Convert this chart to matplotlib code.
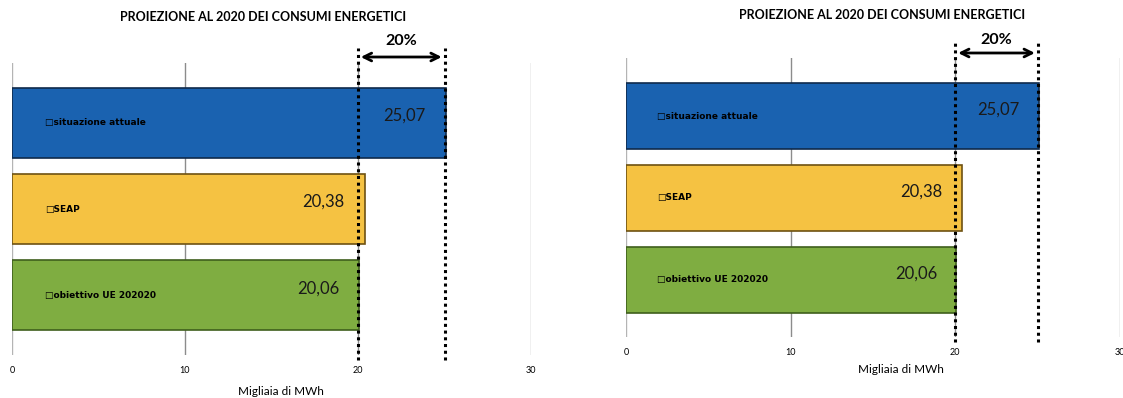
import matplotlib.pyplot as plt

categories = ['obiettivo UE 202020', 'SEAP', 'situazione attuale']
values = [20.06, 20.38, 25.07]
value_labels = ['20,06', '20,38', '25,07']
bar_colors = ['#7fad41', '#f5c242', '#1a62b0']
edge_colors = ['#3f5f1c', '#6e5212', '#0f2a4c']
x_ticks = [0, 10, 20, 30]
target_low, target_high = 20, 25
gap_label = '20%'
title = 'PROIEZIONE AL 2020 DEI CONSUMI ENERGETICI'
x_title = 'Migliaia di MWh'

NARROW = ['Liberation Sans Narrow', 'DejaVu Sans']
REGULAR = ['Lato', 'DejaVu Sans']


def draw_panel(fig, rect, ylim, title_xy, xlabel_xy, arrow_y, text_y, line_ext):
    ax = fig.add_axes(rect)
    pos = range(len(categories))
    ax.barh(pos, values, height=0.81, color=bar_colors, edgecolor=edge_colors,
            linewidth=1.2, zorder=2)
    ax.set_xlim(0, 30)
    ax.set_ylim(*ylim)
    ax.set_xticks(x_ticks)
    ax.set_xticklabels([str(t) for t in x_ticks], family=REGULAR, fontsize=6.5)
    ax.set_yticks([])
    ax.tick_params(axis='x', length=0, pad=8)
    for s in ax.spines.values():
        s.set_visible(False)
    ax.grid(axis='x', color='#b4b4b4', linewidth=1, zorder=0)
    for i, gl in enumerate(ax.get_xgridlines()):
        if x_ticks[i] in (10, 20):
            gl.set_color('#8c8c8c')

    for i, cat in enumerate(categories):
        ax.text(1.9, i, '\u25a1' + cat, ha='left', va='center', fontsize=6.5,
                fontweight='bold', family=NARROW, zorder=3)
        ax.text(values[i] - 1.15, i + 0.08, value_labels[i], ha='right', va='center',
                fontsize=12, family=REGULAR, color='#1a1a1a', zorder=3)

    lo, hi = ylim
    for xv in (target_low, target_high):
        ax.plot([xv, xv], [lo - line_ext[0], hi + line_ext[1]], color='black',
                linewidth=2.2, linestyle=(0, (1, 1.2)), clip_on=False, zorder=4)
    ax.annotate('', xy=(target_low, arrow_y), xytext=(target_high, arrow_y),
                xycoords='data', annotation_clip=False,
                arrowprops=dict(arrowstyle='<->', color='black', lw=2,
                                mutation_scale=14))
    ax.text((target_low + target_high) / 2, text_y, gap_label, ha='center',
            va='center', fontsize=11.5, fontweight='bold', family=REGULAR,
            clip_on=False)

    fig.text(title_xy[0], title_xy[1], title, ha='center', va='center',
             fontsize=9, fontweight='bold', family=REGULAR)
    ax.set_xlabel(x_title, family=REGULAR, fontsize=8.5)
    ax.xaxis.set_label_coords(*xlabel_xy)
    return ax


fig = plt.figure(figsize=(11.23, 3.98), dpi=100)

W, H = 1123, 398
# left panel: pixels x 12..531, y 63..355
draw_panel(fig, [12 / W, 1 - 355 / H, 519 / W, 292 / H], (-0.69, 2.69),
           (263 / W, 1 - 17 / H), (0.518, -0.106),
           2.69 + 6 / 86.5, 2.69 + 22 / 86.5, (5 / 86.5, 15 / 86.5))
# right panel: pixels x 626..1120, y 58..337
draw_panel(fig, [626 / W, 1 - 337 / H, 494 / W, 279 / H], (-0.70, 2.71),
           (882 / W, 1 - 15 / H), (0.557, -0.097),
           2.71 + 5 / 81.75, 2.71 + 18 / 81.75, (5 / 81.75, 15 / 81.75))

fig.savefig('out.png', dpi=100)
